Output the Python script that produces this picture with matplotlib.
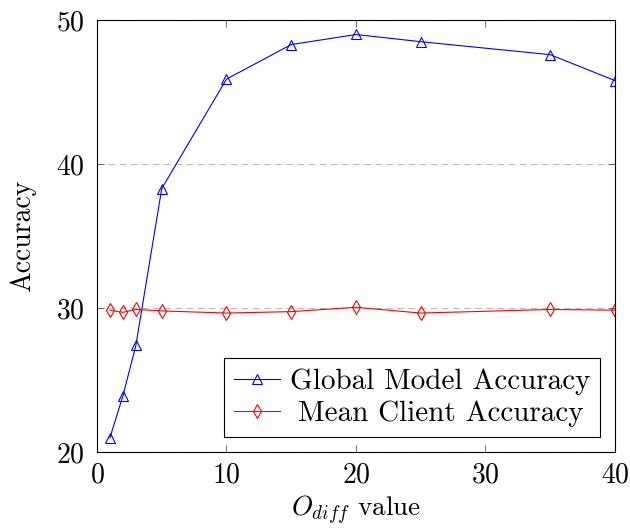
import matplotlib
matplotlib.use("Agg")
import matplotlib.pyplot as plt
from matplotlib.transforms import Affine2D

plt.rcParams['font.family'] = 'serif'
plt.rcParams['font.serif'] = ['cmr10']
plt.rcParams['mathtext.fontset'] = 'cm'
plt.rcParams['axes.formatter.use_mathtext'] = True

o_diff = [1, 2, 3, 5, 10, 15, 20, 25, 35, 40]
global_acc = [21.0, 23.9, 27.4, 38.3, 45.9, 48.3, 49.0, 48.5, 47.6, 45.8]
client_acc = [29.85, 29.7, 29.9, 29.8, 29.65, 29.75, 30.05, 29.65, 29.9, 29.85]

fig = plt.figure(figsize=(6.3, 5.29), dpi=100)
ax = fig.add_axes([0.154, 0.1456, 0.822, 0.8164])

ax.plot(o_diff, global_acc, color='blue', lw=0.8, marker='^', ms=7,
        mfc='none', mec='blue', mew=0.8, label='Global Model Accuracy')
ax.plot(o_diff, client_acc, color='red', lw=0.8, marker='d', ms=7,
        mfc='none', mec='red', mew=0.8, label='Mean Client Accuracy')

ax.set_xlim(0, 40)
ax.set_ylim(20, 50)
ax.set_xticks([0, 10, 20, 30, 40])
ax.set_yticks([20, 30, 40, 50])
ax.yaxis.grid(True, color='#bbbbbb', ls=(0, (6, 4)), lw=0.8)
ax.tick_params(direction='in', top=True, right=True, labelsize=20, length=5,
               width=0.6, color='#555555')
ax.tick_params(axis='x', pad=7)
ax.tick_params(axis='y', pad=9)
ax.set_xlabel(r'$O_{diff}$ value', fontsize=19.5, labelpad=4)
ax.set_ylabel('Accuracy', fontsize=20, labelpad=14)

leg = ax.legend(loc='lower right', fontsize=21, fancybox=False, edgecolor='black',
                framealpha=1, handlelength=1.55, borderpad=0.35, labelspacing=0.2,
                handletextpad=0.35, borderaxespad=0.5)
leg.get_frame().set_linewidth(0.8)
# centre the shorter label like pgfplots does
t = leg.get_texts()[1]
t.set_transform(t.get_transform() + Affine2D().translate(8, 0))

fig.savefig('out.png', dpi=100)
